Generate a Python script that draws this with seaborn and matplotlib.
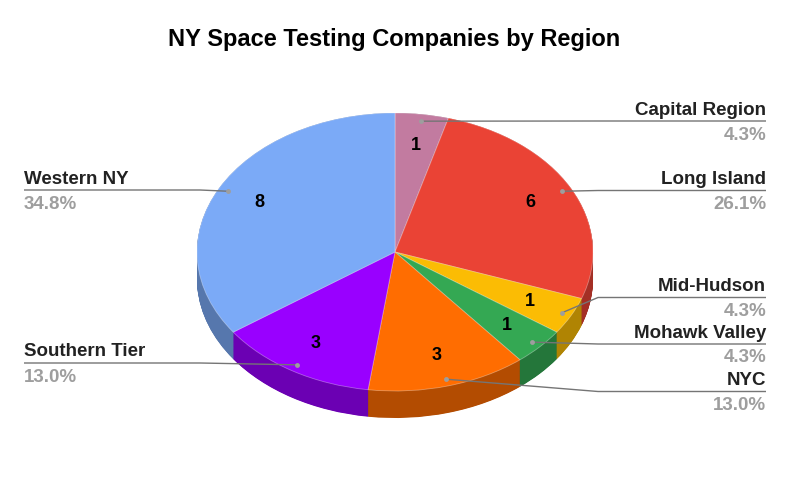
import numpy as np
import matplotlib
matplotlib.use("Agg")
import matplotlib.pyplot as plt
import matplotlib.colors as mcolors
import seaborn as sns

# ---- data ----
regions = ["Capital Region", "Long Island", "Mid-Hudson", "Mohawk Valley",
           "NYC", "Southern Tier", "Western NY"]
counts = [1, 6, 1, 1, 3, 3, 8]
colors = ["#c27ba0", "#ea4335", "#fbbc04", "#34a853", "#ff6d01", "#9900ff", "#7baaf7"]
title = "NY Space Testing Companies by Region"

sns.set_theme(style="white")
plt.rcParams["font.family"] = ["Liberation Sans", "DejaVu Sans"]

W, H = 790, 488
CX, CY = 395, 252          # pixel centre of top face
RX, RY = 198, 139          # pixel radii
DEPTH = 27                 # pixel depth

fig = plt.figure(figsize=(W / 100, H / 100), dpi=100)
ax = fig.add_axes([0, 0, 1, 1])


def p2d(px, py):
    return (px - CX) / RX, (CY - py) / RY


side_colors = [tuple(c * 0.7 for c in mcolors.to_rgb(col)) for col in colors]
depth_d = DEPTH / RY
n_layers = 60
for i in range(n_layers + 1):
    off = depth_d * (1 - i / n_layers)
    ax.pie(counts, colors=side_colors, startangle=90, counterclock=False,
           center=(0, -off), radius=1, wedgeprops=dict(linewidth=0, antialiased=True))

total = sum(counts)
ax.pie(counts, colors=colors, startangle=90, counterclock=False,
       center=(0, 0), radius=1,
       wedgeprops=dict(linewidth=0.6, edgecolor=(1, 1, 1, 0.35)),
       autopct=lambda p: f"{round(p * total / 100):d}", pctdistance=0.77,
       textprops=dict(fontsize=13, fontweight="bold", color="black"))

ax.set_aspect("auto")
ax.set_xlim((0 - CX) / RX, (W - CX) / RX)
ax.set_ylim((CY - H) / RY, CY / RY)
ax.axis("off")

# ---- labels & leader lines ----
line_y = {"Capital Region": 121, "Long Island": 190.5, "Mid-Hudson": 297.5,
          "Mohawk Valley": 344, "NYC": 391.5, "Western NY": 190, "Southern Tier": 363}
cum = np.cumsum([0] + counts)
for k, name in enumerate(regions):
    mid = (cum[k] + cum[k + 1]) / 2 / total * 2 * np.pi
    dx, dy = 0.95 * np.sin(mid), 0.95 * np.cos(mid)
    dot_px = CX + dx * RX
    ly = line_y[name]
    right = np.sin(mid) > 0
    if right:
        xs = [dot_px, max(dot_px, 598), 766]
        tx, ha = 766, "right"
    else:
        xs = [dot_px, min(dot_px, 200), 24]
        tx, ha = 24, "left"
    pts = [p2d(xs[0], CY - dy * RY), p2d(xs[1], ly), p2d(xs[2], ly)]
    ax.plot([p[0] for p in pts], [p[1] for p in pts], color="#757575", lw=1.0,
            solid_capstyle="butt", zorder=5)
    ax.plot([dx], [dy], "o", ms=3.5, color="#9e9e9e", mec="none", zorder=6)
    pct = counts[k] / total * 100
    ax.text(*p2d(tx, ly - 6.5), name, ha=ha, va="baseline", fontsize=13.5,
            fontweight="bold", color="#222222")
    ax.text(*p2d(tx, ly + 18.5), f"{pct:.1f}%", ha=ha, va="baseline", fontsize=13.5,
            fontweight="bold", color="#9e9e9e")

fig.text(394 / W, 1 - 46 / H, title, ha="center", va="baseline", fontsize=17,
         fontweight="bold", color="#000000")

fig.savefig("out.png", dpi=100, facecolor="white")
